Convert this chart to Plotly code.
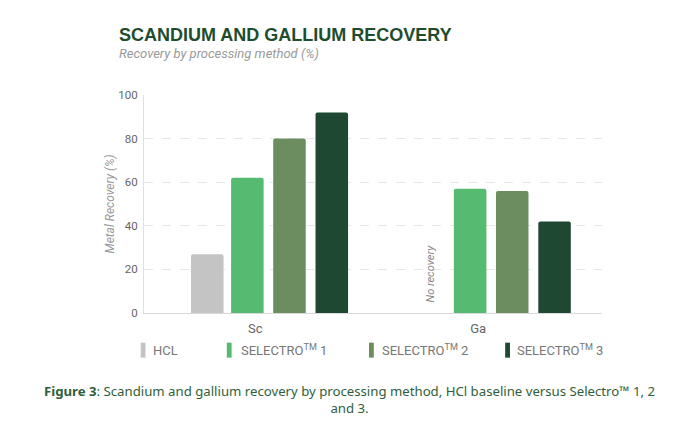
import plotly.graph_objects as go

elements = ["Sc", "Ga"]
methods = ["HCL", "SELECTRO<sup>TM</sup> 1", "SELECTRO<sup>TM</sup> 2", "SELECTRO<sup>TM</sup> 3"]
hcl = [27, None]
selectro_1 = [62, 57]
selectro_2 = [80, 56]
selectro_3 = [92, 42]
y_ticks = [0, 20, 40, 60, 80, 100]

series = [hcl, selectro_1, selectro_2, selectro_3]
colors = ["#c4c4c4", "#56ba70", "#6b8d5f", "#1f4832"]
offsets = [-0.289, -0.109, 0.080, 0.270]

fig = go.Figure()
for name, vals, col, off in zip(methods, series, colors, offsets):
    fig.add_trace(go.Bar(
        x=elements, y=vals, name=name, showlegend=False,
        marker=dict(color=col, cornerradius=2, line=dict(width=0)),
        offset=off, width=0.146,
    ))

axis_grey = "#666666"

fig.update_layout(
    width=700, height=431,
    margin=dict(l=136, r=106, t=87, b=126, autoexpand=False),
    paper_bgcolor="white", plot_bgcolor="white",
    font=dict(family="Roboto, Liberation Sans, sans-serif", color=axis_grey, size=12),
    barmode="overlay",
    xaxis=dict(
        type="category", range=[-0.5, 1.556], showgrid=False,
        showline=True, linecolor="#d9d9d9", linewidth=1,
        ticks="", ticklabelstandoff=3, tickfont=dict(size=13, color=axis_grey),
    ),
    yaxis=dict(
        range=[0, 100], tickvals=y_ticks, showgrid=True,
        gridcolor="#e6e6e6", griddash="dash", gridwidth=1,
        zeroline=False, showline=True, linecolor="#e0e0e0", linewidth=1,
        ticks="", ticklabelstandoff=3, tickfont=dict(size=11.5, color=axis_grey),
        automargin=False,
        title=dict(text="<i>Metal Recovery (%)</i>", font=dict(size=12, color="#999999"), standoff=1),
    ),
)

# legend drawn by hand so the swatches can be thin bars like the original
def px_x(sx):
    return (sx - 144.3) / 457.4

def px_y(sy):
    return (313.3 - sy) / 218.3

swatch_left = [141, 227, 369, 505]
text_left = [153, 241, 382, 517]
for name, col, sl, tl in zip(methods, colors, swatch_left, text_left):
    fig.add_shape(
        type="rect", xref="paper", yref="paper",
        x0=px_x(sl), x1=px_x(sl + 4.8), y0=px_y(358), y1=px_y(343),
        fillcolor=col, line=dict(width=0),
    )
    fig.add_annotation(
        x=px_x(tl - 2), y=px_y(350.5), xref="paper", yref="paper",
        xanchor="left", yanchor="middle", text=name, showarrow=False,
        font=dict(size=13, color="#777777"),
    )

fig.add_annotation(
    x=0.787, y=18, xref="x", yref="y", text="<i>No recovery</i>", textangle=-90,
    showarrow=False, font=dict(size=11, color="#888888"),
)

fig.add_annotation(
    x=px_x(117), y=px_y(35), xref="paper", yref="paper", xanchor="left", yanchor="middle",
    text="<b>SCANDIUM AND GALLIUM RECOVERY</b>", showarrow=False,
    font=dict(family="Liberation Sans, Arial, sans-serif", size=18, color="#1e4d2e"),
)
fig.add_annotation(
    x=px_x(117), y=px_y(53), xref="paper", yref="paper", xanchor="left", yanchor="middle",
    text="<i>Recovery by processing method (%)</i>", showarrow=False,
    font=dict(size=13, color="#9a9a9a"),
)
fig.add_annotation(
    x=px_x(350), y=px_y(399.5), xref="paper", yref="paper", xanchor="center", yanchor="middle",
    text="<b>Figure 3</b>: Scandium and gallium recovery by processing method, HCl baseline versus Selectro\u2122 1, 2<br>and 3.",
    showarrow=False, align="center",
    font=dict(family="Noto Sans, sans-serif", size=13.2, color="#2f5e3a"),
)

fig.write_html("out.html")
